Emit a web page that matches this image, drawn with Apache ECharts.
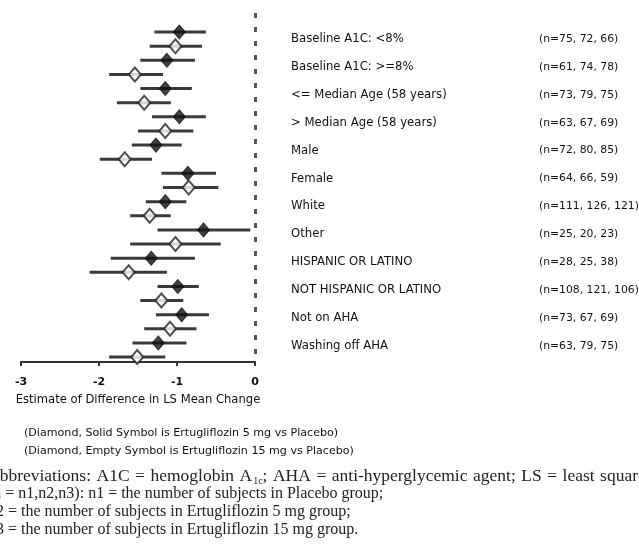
<!DOCTYPE html>
<html>
<head>
<meta charset="utf-8">
<script src="https://cdn.jsdelivr.net/npm/echarts@6/dist/echarts.min.js"></script>
<style>
  html, body { margin: 0; padding: 0; background: #fff; }
  #chart { width: 639px; height: 550px; }
</style>
</head>
<body>
<div id="chart"></div>
<script>
// Subgroups, top to bottom
const categories = [
  'Baseline A1C: <8%',
  'Baseline A1C: >=8%',
  '<= Median Age (58 years)',
  '> Median Age (58 years)',
  'Male',
  'Female',
  'White',
  'Other',
  'HISPANIC OR LATINO',
  'NOT HISPANIC OR LATINO',
  'Not on AHA',
  'Washing off AHA'
];
const nCounts = [
  '(n=75, 72, 66)',
  '(n=61, 74, 78)',
  '(n=73, 79, 75)',
  '(n=63, 67, 69)',
  '(n=72, 80, 85)',
  '(n=64, 66, 59)',
  '(n=111, 126, 121)',
  '(n=25, 20, 23)',
  '(n=28, 25, 38)',
  '(n=108, 121, 106)',
  '(n=73, 67, 69)',
  '(n=63, 79, 75)'
];

// Ertugliflozin 5 mg vs placebo: LS mean difference and 95% CI
const est5 = [-0.97, -1.13, -1.15, -0.97, -1.27, -0.86, -1.15, -0.66, -1.33, -0.99, -0.94, -1.24];
const lo5  = [-1.29, -1.47, -1.47, -1.32, -1.58, -1.20, -1.40, -1.25, -1.85, -1.25, -1.27, -1.57];
const hi5  = [-0.63, -0.77, -0.81, -0.63, -0.94, -0.50, -0.88, -0.06, -0.77, -0.72, -0.59, -0.88];

// Ertugliflozin 15 mg vs placebo
const est15 = [-1.02, -1.54, -1.42, -1.15, -1.67, -0.85, -1.35, -1.02, -1.62, -1.20, -1.09, -1.51];
const lo15  = [-1.35, -1.87, -1.77, -1.50, -1.99, -1.18, -1.60, -1.60, -2.12, -1.47, -1.42, -1.87];
const hi15  = [-0.68, -1.18, -1.08, -0.79, -1.32, -0.47, -1.08, -0.44, -1.13, -0.92, -0.75, -1.15];

const xTicks = [-3, -2, -1, 0];

const sansFont = 'DejaVu Sans';
const serifFont = 'Liberation Serif';
const ink = '#111';

// Each subgroup gets two rows: 5 mg on row 2j, 15 mg on row 2j+1
const ciRows = [];
const pts5 = [];
const pts15 = [];
categories.forEach((c, j) => {
  ciRows.push([lo5[j], hi5[j], 2 * j]);
  ciRows.push([lo15[j], hi15[j], 2 * j + 1]);
  pts5.push([est5[j], 2 * j]);
  pts15.push([est15[j], 2 * j + 1]);
});

// Justified first footnote line: words spread with extra spacing
const abbrevWords = ['Abbreviations:', 'A1C', '=', 'hemoglobin', 'A{sub|1c};', 'AHA', '=',
  'anti-hyperglycemic', 'agent;', 'LS', '=', 'least', 'squares'];
const abbrevText = abbrevWords.map(w => w.indexOf('{') >= 0
  ? '{w|' + w.replace('{sub|1c};', '}{sub|1c}{wp|;}')
  : '{wp|' + w + '}').join('');

const chart = echarts.init(document.getElementById('chart'), null, { renderer: 'canvas' });

chart.setOption({
  animation: false,
  backgroundColor: '#fff',
  grid: [
    { left: 21, right: 384, top: 13, bottom: 188 },
    { left: 283, width: 350, top: 25, height: 335 }
  ],
  xAxis: [
    {
      gridIndex: 0,
      type: 'value',
      min: xTicks[0],
      max: xTicks[xTicks.length - 1],
      interval: 1,
      splitLine: { show: false },
      axisLine: { show: true, onZero: false, lineStyle: { color: '#333', width: 2 } },
      axisTick: { show: true, length: 4, lineStyle: { color: '#333', width: 2 } },
      axisLabel: {
        margin: 15,
        color: ink,
        fontFamily: sansFont,
        fontSize: 11,
        fontWeight: 'bold'
      },
      name: 'Estimate of Difference in LS Mean Change',
      nameLocation: 'middle',
      nameGap: 32,
      nameTextStyle: { color: ink, fontFamily: sansFont, fontSize: 11.6 }
    },
    { gridIndex: 1, type: 'value', show: false, min: 0, max: 1 }
  ],
  yAxis: [
    {
      gridIndex: 0,
      type: 'value',
      inverse: true,
      min: -1.35,
      max: 23.35,
      show: false
    },
    {
      gridIndex: 1,
      type: 'category',
      inverse: true,
      data: categories,
      axisLine: { show: false },
      axisTick: { show: false },
      splitLine: { show: false },
      axisLabel: {
        inside: true,
        margin: 8,
        formatter: (v, i) => '{a|' + v + '}{b|' + nCounts[i] + '}',
        rich: {
          a: { width: 248, fontFamily: sansFont, fontSize: 11.7, color: ink },
          b: { fontFamily: sansFont, fontSize: 10.8, color: ink }
        }
      }
    }
  ],
  series: [
    {
      name: 'CI',
      type: 'custom',
      xAxisIndex: 0,
      yAxisIndex: 0,
      encode: { x: [0, 1], y: 2 },
      data: ciRows,
      renderItem: (params, api) => {
        const a = api.coord([api.value(0), api.value(2)]);
        const b = api.coord([api.value(1), api.value(2)]);
        return {
          type: 'line',
          shape: { x1: a[0], y1: a[1], x2: b[0], y2: b[1] },
          style: { stroke: '#3a3a3a', lineWidth: 3 }
        };
      },
      markLine: {
        silent: true,
        symbol: 'none',
        label: { show: false },
        lineStyle: { color: '#555', width: 3, type: [5, 9] },
        data: [{ xAxis: 0 }]
      },
      z: 2
    },
    {
      name: 'Ertugliflozin 5 mg vs Placebo',
      type: 'scatter',
      xAxisIndex: 0,
      yAxisIndex: 0,
      data: pts5,
      symbol: 'diamond',
      symbolSize: [12, 14],
      itemStyle: { color: '#111', borderColor: '#111', borderWidth: 1 },
      z: 5
    },
    {
      name: 'Ertugliflozin 15 mg vs Placebo',
      type: 'scatter',
      xAxisIndex: 0,
      yAxisIndex: 0,
      data: pts15,
      symbol: 'diamond',
      symbolSize: [12, 14],
      itemStyle: { color: '#fff', borderColor: '#222', borderWidth: 2 },
      z: 5
    }
  ],
  graphic: [
    {
      type: 'text', left: 24, top: 428,
      style: { text: '(Diamond, Solid Symbol is Ertugliflozin 5 mg vs Placebo)', fontFamily: sansFont, fontSize: 11.1, fill: ink }
    },
    {
      type: 'text', left: 24, top: 446,
      style: { text: '(Diamond, Empty Symbol is Ertugliflozin 15 mg vs Placebo)', fontFamily: sansFont, fontSize: 11.1, fill: ink }
    },
    {
      type: 'text', x: -13, y: 467,
      style: {
        text: abbrevText,
        fontFamily: serifFont, fontSize: 17.5, fill: '#222',
        rich: {
          w: { fontFamily: serifFont, fontSize: 17.5, fill: '#222' },
          wp: { fontFamily: serifFont, fontSize: 17.5, fill: '#222', padding: [0, 5.5, 0, 0] },
          sub: { fontFamily: serifFont, fontSize: 10, fill: '#222', padding: [9, 0, 0, 1] }
        }
      }
    },
    {
      type: 'text', x: -12, y: 486,
      style: { text: '(n = n1,n2,n3): n1 = the number of subjects in Placebo group;', fontFamily: serifFont, fontSize: 16, fill: '#222' }
    },
    {
      type: 'text', x: -12, y: 504,
      style: { text: 'n2 = the number of subjects in Ertugliflozin 5 mg group;', fontFamily: serifFont, fontSize: 16, fill: '#222' }
    },
    {
      type: 'text', x: -12, y: 522,
      style: { text: 'n3 = the number of subjects in Ertugliflozin 15 mg group.', fontFamily: serifFont, fontSize: 16, fill: '#222' }
    }
  ]
});
</script>
</body>
</html>
